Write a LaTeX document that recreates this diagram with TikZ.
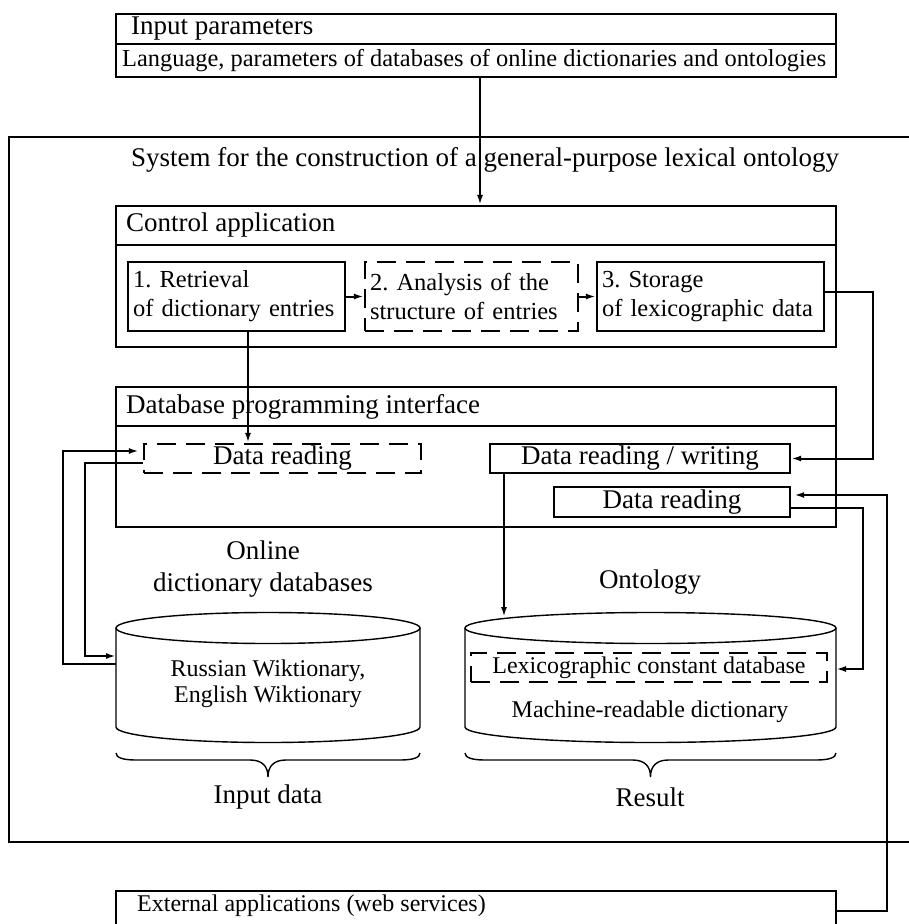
\documentclass[tikz,border=0pt]{standalone}
\usepackage{fontspec}
\setmainfont{Liberation Serif}
\usetikzlibrary{arrows.meta,calc}
\frenchspacing
\begin{document}
\begin{tikzpicture}[x=1pt,y=-1pt,
  lbl/.style={font=\fontsize{27}{32}\selectfont, inner sep=0pt},
  sml/.style={font=\fontsize{24.5}{29}\selectfont, inner sep=0pt},
  frame/.style={draw, line width=2.3pt, inner sep=0pt},
  dbox/.style={frame, dash pattern=on 19pt off 10pt},
  arr/.style={line width=2pt, -{Latex[length=10pt,width=6pt]}},
  cyl/.style={line width=1.4pt}]
\useasboundingbox (0,0) rectangle (909,924);

% input parameters
\node[frame, minimum width=720pt, minimum height=30pt] (inp) at (476,29) {};
\node[frame, minimum width=720pt, minimum height=33pt] (lang) at (476,60.5) {};
\node[lbl, anchor=west] (inpT) at (131,29) {Input parameters};
\node[inner sep=0pt, font=\fontsize{24.4}{29}\selectfont, anchor=west] (langT) at (122,61) {Language, parameters of databases of online dictionaries and ontologies};

% system box
\node[frame, minimum width=911pt, minimum height=705pt] (sys) at (464.5,489.5) {};
\node[lbl, anchor=west] (sysT) at (131,160) {System for the construction of a general-purpose lexical ontology};

% control application
\node[frame, minimum width=720pt, minimum height=39pt] (ctrlT) at (476,225.5) {};
\node[frame, minimum width=720pt, minimum height=102pt] (ctrl) at (476,296) {};
\node[lbl, anchor=west] (ctrlL) at (126,225.5) {Control application};

\node[frame, sml, minimum width=217pt, minimum height=69pt, text width=207pt, align=left] (s1) at (236.5,296.5) {1. Retrieval\\of dictionary entries};
\node[dbox, sml, minimum width=213pt, minimum height=69pt, text width=203pt, align=left] (s2) at (471.5,296.5) {2. Analysis of the\\structure of entries};
\node[frame, sml, minimum width=227pt, minimum height=69pt, text width=217pt, align=left] (s3) at (710.5,296.5) {3. Storage\\of lexicographic data};

\draw[arr] ([xshift=4pt]lang.south) -- ([xshift=4pt]ctrlT.north);
\draw[arr] (s1) -- (s2);
\draw[arr] (s2) -- (s3);

% database programming interface
\node[frame, minimum width=720pt, minimum height=39pt] (dbT) at (476,406.5) {};
\node[frame, minimum width=720pt, minimum height=101pt] (db) at (476,476.5) {};
\node[lbl, anchor=west] (dbL) at (126,406.5) {Database programming interface};

\node[dbox, lbl, minimum width=277pt, minimum height=29pt] (dr1) at (282.5,458.5) {Data reading};
\node[frame, lbl, minimum width=300pt, minimum height=29pt] (rw) at (640,458.5) {Data reading / writing};
\node[frame, lbl, minimum width=236pt, minimum height=30pt] (dr2) at (672,502) {Data reading};

% cylinders
\coordinate (cLa) at (116,656);
\coordinate (cLb) at (116,664);
\coordinate (cRtop) at (504,617);
\coordinate (cRd) at (836,669);

\draw[cyl] (268,628) ellipse [x radius=152pt, y radius=15.5pt];
\draw[cyl] (116,628) -- (116,727) .. controls (116,735.6) and (184,742.5) .. (268,742.5) .. controls (352,742.5) and (420,735.6) .. (420,727) -- (420,628);
\draw[cyl] (650.5,628) ellipse [x radius=185.5pt, y radius=15.5pt];
\draw[cyl] (465,628) -- (465,727) .. controls (465,735.6) and (548,742.5) .. (650.5,742.5) .. controls (753,742.5) and (836,735.6) .. (836,727) -- (836,628);

\node[dbox, inner sep=0pt, font=\fontsize{24}{28}\selectfont, minimum width=356pt, minimum height=29pt] (lcd) at (649,667.5) {Lexicographic constant database};
\node[inner sep=0pt, font=\fontsize{24}{28}\selectfont] (mrd) at (650,712) {Machine-readable dictionary};
\node[inner sep=0pt, font=\fontsize{24}{26}\selectfont, align=center] (rus) at (268,684) {Russian Wiktionary,\\English Wiktionary};

\node[lbl, align=center] (onl) at (263,569) {Online\\dictionary databases};
\node[lbl] (ont) at (650,582) {Ontology};

% braces
\draw[cyl] (116,753) .. controls (116,758) and (124,760) .. (136,760) -- (250,760) .. controls (262,760) and (268,766) .. (268,777) .. controls (268,766) and (274,760) .. (286,760) -- (400,760) .. controls (412,760) and (420,758) .. (420,753);
\draw[cyl] (465,753) .. controls (465,758) and (473,760) .. (485,760) -- (632.5,760) .. controls (644.5,760) and (650.5,766) .. (650.5,777) .. controls (650.5,766) and (656.5,760) .. (668.5,760) -- (816,760) .. controls (828,760) and (836,758) .. (836,753);

\node[lbl] (indata) at (268,797) {Input data};
\node[lbl] (res) at (650,797) {Result};

% external applications
\node[frame, minimum width=720pt, minimum height=40pt] (ext) at (476,911) {};
\node[inner sep=0pt, font=\fontsize{24}{28}\selectfont, anchor=west] (extT) at (137,906) {External applications (web services)};

% connectors
\draw[arr] ([xshift=11.5pt]s1.south) -- ([xshift=-34.5pt]dr1.north);
\draw[arr] ([yshift=4.5pt]s3.east) -- ++(48,0) |- (rw.east);
\draw[arr] ([yshift=-4.5pt]dr1.west) -- ++(-58,0) |- (cLa);
\draw[arr, shorten >=4pt] (cLb) -- ++(-53,0) |- ([yshift=7.5pt]dr1.west);
\draw[arr] ([xshift=-136pt]rw.south) -- (cRtop);
\draw[arr] ([yshift=-6pt]dr2.east) -- ++(72,0) |- (cRd);
\draw[arr, shorten >=3pt] (ext.east) -- ++(50,0) |- ([yshift=7pt]dr2.east);
\end{tikzpicture}
\end{document}
